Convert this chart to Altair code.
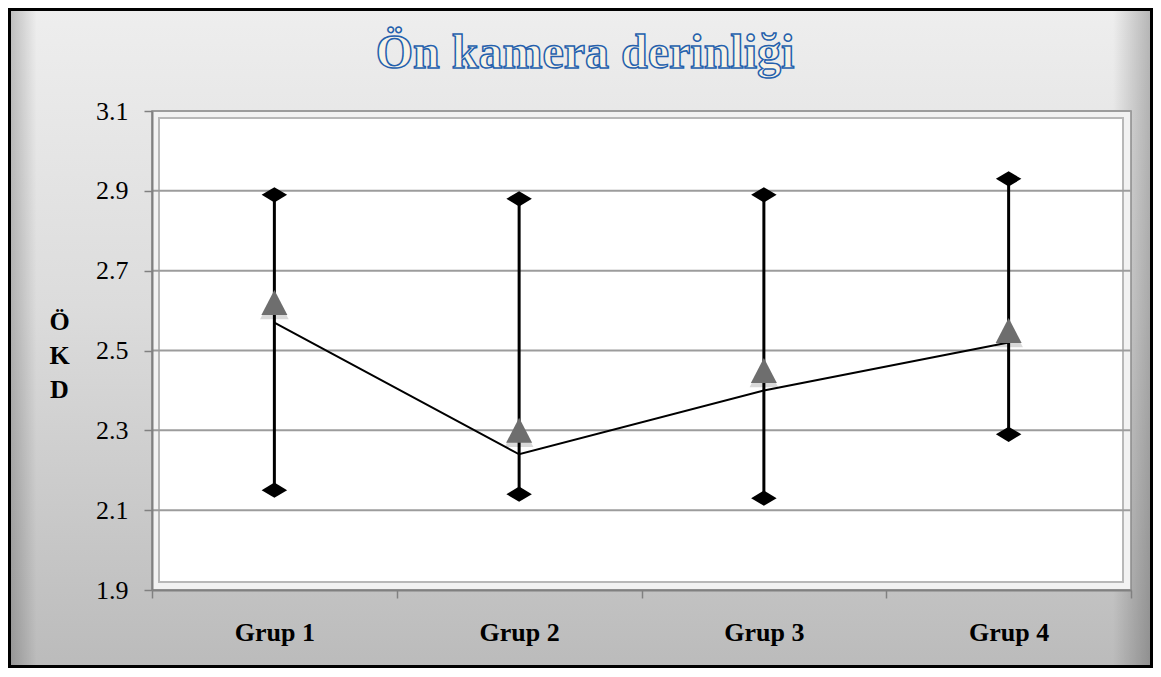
import altair as alt
import pandas as pd

# ---- data ----
categories = ["Grup 1", "Grup 2", "Grup 3", "Grup 4"]
high_values = [2.89, 2.88, 2.89, 2.93]
low_values = [2.15, 2.14, 2.13, 2.29]
mean_values = [2.62, 2.30, 2.45, 2.55]      # grey triangles
line_values = [2.57, 2.24, 2.40, 2.52]      # black connecting line
y_ticks = [1.9, 2.1, 2.3, 2.5, 2.7, 2.9, 3.1]
chart_title = "Ön kamera derinliği"
y_title = ["Ö", "K", "D"]

W, H = 979, 479
PL, PT, PR, PB = 144, 103, 22, 78
FONT = "Liberation Serif"

df = pd.DataFrame({
    "cat": categories,
    "high": high_values,
    "low": low_values,
    "mean": mean_values,
    "line": line_values,
})
grid_df = pd.DataFrame({"v": y_ticks})
one = pd.DataFrame({"t": [chart_title]})

xscale = alt.Scale(domain=categories, paddingInner=0, paddingOuter=0)
yscale = alt.Scale(domain=[1.9, 3.1], nice=False, zero=False)

x_axis = alt.Axis(
    title=None, labelAngle=0, tickBand="extent", grid=False,
    labelFont=FONT, labelFontSize=26, labelFontWeight="bold", labelColor="black",
    labelPadding=21, domainColor="#808080", domainWidth=2,
    tickColor="#808080", tickWidth=1.5, tickSize=8, zindex=1,
)
y_axis = alt.Axis(
    values=y_ticks, format=".1f", grid=False,
    labelFont=FONT, labelFontSize=26, labelColor="black", labelPadding=16,
    domainColor="#808080", domainWidth=2, tickColor="#808080", tickWidth=1.5,
    tickSize=8, title=y_title, titleAngle=0, titleFont=FONT, titleFontSize=26,
    titleFontWeight="bold", titleColor="black", titleX=-93, titleY=218,
    titleAlign="center", titleBaseline="alphabetic", titleLineHeight=34, zindex=1,
)

X = alt.X("cat:N", scale=xscale, axis=x_axis, sort=categories)

# background gradient of the whole chart
bg = alt.Chart(one).mark_rect(
    fill=alt.Gradient(
        gradient="linear",
        stops=[alt.GradientStop(color="#eeeeee", offset=0),
               alt.GradientStop(color="#dcdcdc", offset=0.45),
               alt.GradientStop(color="#bbbbbb", offset=1)],
        x1=0, x2=0, y1=0, y2=1),
).encode(x=alt.value(-PL), x2=alt.value(W + PR), y=alt.value(-PT), y2=alt.value(H + PB))

side_shade = alt.Chart(one).mark_rect(
    fill=alt.Gradient(
        gradient="linear",
        stops=[alt.GradientStop(color="rgba(0,0,0,0.22)", offset=0),
               alt.GradientStop(color="rgba(0,0,0,0)", offset=0.025),
               alt.GradientStop(color="rgba(0,0,0,0)", offset=0.965),
               alt.GradientStop(color="rgba(0,0,0,0.25)", offset=1)],
        x1=0, x2=1, y1=0, y2=0),
).encode(x=alt.value(-PL), x2=alt.value(W + PR), y=alt.value(-PT), y2=alt.value(H + PB))

panel = alt.Chart(one).mark_rect(fill="#f2f2f2", stroke="#8a8a8a", strokeWidth=1.5).encode(
    x=alt.value(0), x2=alt.value(W), y=alt.value(0), y2=alt.value(H))
inner = alt.Chart(one).mark_rect(fill="white", stroke="#b8b8b8", strokeWidth=2).encode(
    x=alt.value(7), x2=alt.value(W - 8), y=alt.value(7), y2=alt.value(H - 8))

grid = alt.Chart(grid_df).mark_rule(color="#9c9c9c", strokeWidth=2).encode(
    y=alt.Y("v:Q", scale=yscale, axis=y_axis), x=alt.value(0), x2=alt.value(W))

base = alt.Chart(df)
rules = base.mark_rule(color="black", strokeWidth=3).encode(
    x=X, y=alt.Y("low:Q", scale=yscale), y2="high:Q")

diamond = "M-1,0L0,-0.6L1,0L0,0.6Z"
hi_pts = base.mark_point(shape=diamond, filled=True, color="black", size=650, opacity=1).encode(
    x=X, y=alt.Y("high:Q", scale=yscale))
lo_pts = base.mark_point(shape=diamond, filled=True, color="black", size=650, opacity=1).encode(
    x=X, y=alt.Y("low:Q", scale=yscale))

line = base.mark_line(color="black", strokeWidth=2).encode(
    x=X, y=alt.Y("line:Q", scale=yscale))

tri = "M0,-0.96L1,0.96L-1,0.96Z"
tri_shadow = base.mark_point(shape=tri, filled=True, color="#000000", size=820, opacity=0.15,
                             yOffset=3).encode(x=X, y=alt.Y("mean:Q", scale=yscale))
tris = base.mark_point(shape=tri, filled=True, color="#6e6e6e", size=676, opacity=1).encode(
    x=X, y=alt.Y("mean:Q", scale=yscale))

title = alt.Chart(one).mark_text(
    font=FONT, fontSize=48, fontWeight="bold", align="center", baseline="alphabetic",
    fill="#f7f3e6", stroke="#2460ad", strokeWidth=1.5,
).encode(x=alt.value(433), y=alt.value(-43), text="t:N")

border = alt.Chart(one).mark_rect(fill=None, stroke="black", strokeWidth=3).encode(
    x=alt.value(-PL + 1.5), x2=alt.value(W + PR - 1.5),
    y=alt.value(-PT + 1.5), y2=alt.value(H + PB - 1.5))

chart = alt.layer(
    bg, side_shade, panel, inner, grid, rules, line, hi_pts, lo_pts, tri_shadow, tris,
    title, border,
).properties(
    width=W, height=H,
    padding={"left": PL, "top": PT, "right": PR, "bottom": PB},
    autosize=alt.AutoSizeParams(type="none"),
    background="#dddddd",
).configure_view(stroke=None, fill=None)

chart.save("out.html", embed_options={"renderer": "svg", "actions": False})
